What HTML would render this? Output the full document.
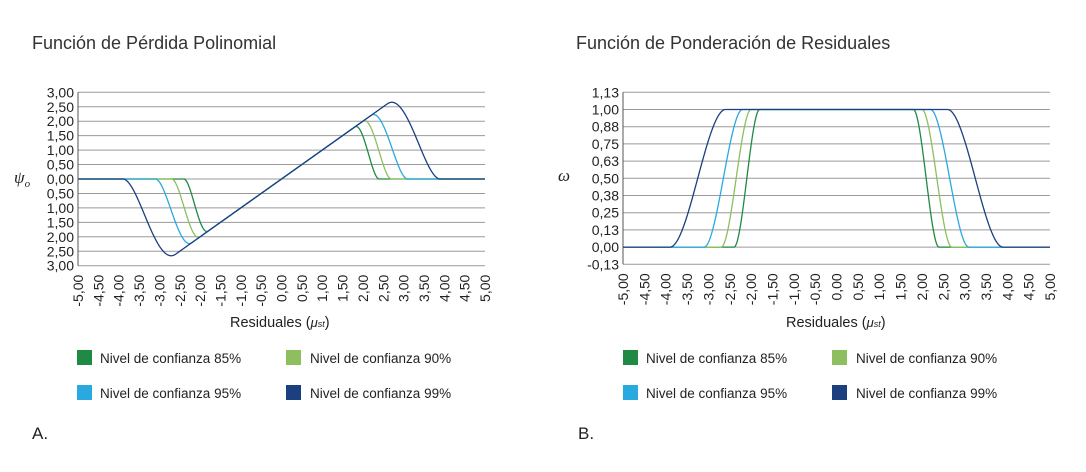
<!DOCTYPE html>
<html><head><meta charset="utf-8"><style>
body{margin:0;background:#fff;width:1086px;height:467px;overflow:hidden}
svg{font-family:"Liberation Sans",sans-serif;}
</style></head><body>
<svg id="s" width="1086" height="467" xmlns="http://www.w3.org/2000/svg">
<text x="32" y="49" font-size="18" fill="#333">Función de Pérdida Polinomial</text>
<text x="576" y="49" font-size="18" fill="#333">Función de Ponderación de Residuales</text>
<g id="L"></g><g id="R"></g>
<text x="14" y="183" font-size="17" font-style="italic" fill="#222" font-family="Liberation Serif">ψ<tspan font-size="11" dy="4">o</tspan></text>
<text x="558" y="181" font-size="17" font-style="italic" fill="#222" font-family="Liberation Serif">ω</text>
<text x="230" y="327" font-size="14.5" fill="#222">Residuales (<tspan font-style="italic" font-size="13">μ<tspan font-size="9">st</tspan></tspan>)</text>
<text x="786" y="327" font-size="14.5" fill="#222">Residuales (<tspan font-style="italic" font-size="13">μ<tspan font-size="9">st</tspan></tspan>)</text>
<g font-size="13.5" fill="#222">
<rect x="77" y="350" width="15" height="15" fill="#1f8a44"/><text x="100" y="363">Nivel de confianza 85%</text>
<rect x="286" y="350" width="15" height="15" fill="#8dbf5e"/><text x="310" y="363">Nivel de confianza 90%</text>
<rect x="77" y="385" width="15" height="15" fill="#29a9e0"/><text x="100" y="398">Nivel de confianza 95%</text>
<rect x="286" y="385" width="15" height="15" fill="#1c3f80"/><text x="310" y="398">Nivel de confianza 99%</text>
<rect x="623" y="350" width="15" height="15" fill="#1f8a44"/><text x="646" y="363">Nivel de confianza 85%</text>
<rect x="832" y="350" width="15" height="15" fill="#8dbf5e"/><text x="856" y="363">Nivel de confianza 90%</text>
<rect x="623" y="385" width="15" height="15" fill="#29a9e0"/><text x="646" y="398">Nivel de confianza 95%</text>
<rect x="832" y="385" width="15" height="15" fill="#1c3f80"/><text x="856" y="398">Nivel de confianza 99%</text>
</g>
<text x="32" y="439" font-size="17" fill="#222">A.</text>
<text x="578" y="439" font-size="17" fill="#222">B.</text>
</svg>
<script>
var NS="http://www.w3.org/2000/svg";
function el(p,t,a,txt){var e=document.createElementNS(NS,t);for(var k in a)e.setAttribute(k,a[k]);if(txt!=null)e.textContent=txt;p.appendChild(e);return e;}
var ser=[{c:"#1f8a44",a:1.8,b:2.4},{c:"#8dbf5e",a:2.0,b:2.7},{c:"#29a9e0",a:2.2,b:3.1},{c:"#1c3f80",a:2.6,b:3.9}];
function w(x,s){var ax=Math.abs(x);if(ax<=s.a)return 1;if(ax>=s.b)return 0;var t=(ax-s.a)/(s.b-s.a);return 1-t*t*(3-2*t);}
function chart(g,x0,x1,yTop,yBot,labels,vmax,vmin,f){
  var n=labels.length;
  for(var i=0;i<n;i++){var y=yTop+(yBot-yTop)*i/(n-1);
    el(g,"line",{x1:x0,x2:x1,y1:y,y2:y,stroke:"#9a9a9a","stroke-width":1});
    el(g,"text",{x:x0-4,y:y+5,"font-size":14,"text-anchor":"end",fill:"#222"},labels[i]);}
  el(g,"line",{x1:x0,x2:x0,y1:yTop,y2:yBot,stroke:"#555","stroke-width":1});
  for(var j=0;j<=20;j++){var v=-5+j*0.5,x=x0+(x1-x0)*j/20;
    var s=(v<0?"-":"")+Math.abs(v).toFixed(2).replace(".",",");
    el(g,"text",{x:0,y:0,"font-size":14,"text-anchor":"end",fill:"#222",transform:"translate("+(x+5)+","+(yBot+9)+") rotate(-90)"},s);}
  ser.forEach(function(s){var d="";for(var k=0;k<=1000;k++){var v=-5+k*0.01;var val=f(v,s);
    var X=x0+(v+5)/10*(x1-x0),Y=yTop+(vmax-val)/(vmax-vmin)*(yBot-yTop);d+=(k?"L":"M")+X.toFixed(2)+","+Y.toFixed(2);}
    el(g,"path",{d:d,fill:"none",stroke:s.c,"stroke-width":1.3});});
}
chart(document.getElementById("L"),78,485,92.3,265.7,["3,00","2,50","2,00","1,50","1,00","0,50","0,00","0,50","1,00","1,50","2,00","2,50","3,00"],3,-3,function(v,s){return v*w(v,s);});
chart(document.getElementById("R"),623,1050,92.3,264.3,["1,13","1,00","0,88","0,75","0,63","0,50","0,38","0,25","0,13","0,00","-0,13"],1.125,-0.125,function(v,s){return w(v,s);});
</script>
</body></html>
